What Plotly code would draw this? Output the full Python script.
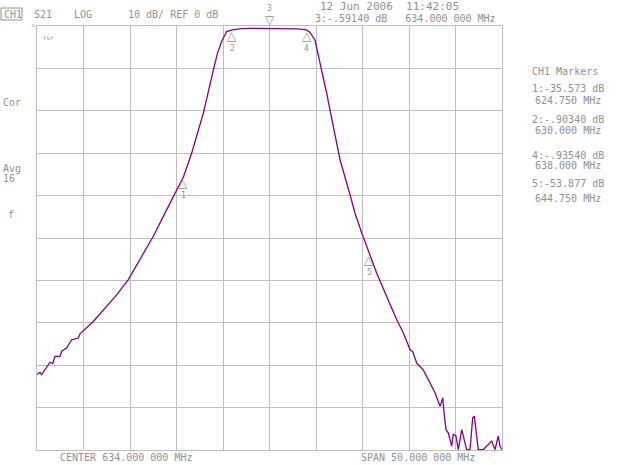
import plotly.graph_objects as go

# ---- data ----
freq_mhz = [609.0, 609.32, 609.5, 609.86, 610.22, 610.4, 610.69, 610.94, 611.47, 611.66,
            612.19, 612.73, 613.44, 613.62, 615.05, 616.49, 617.57, 618.82, 620.08, 621.51,
            622.95, 624.19, 624.75, 625.63, 626.88, 627.96, 628.41, 628.86, 629.4, 630.0,
            631.0, 632.0, 634.0, 636.0, 637.0, 638.0, 638.35, 638.89, 639.14, 639.43,
            640.15, 640.86, 641.59, 642.66, 643.19, 643.92, 644.75, 645.53, 646.6, 647.68,
            648.4, 649.11, 649.4, 649.83, 650.5, 651.08, 651.8, 652.34, 652.63, 652.77,
            652.98, 653.23, 653.59, 653.76, 654.05, 654.3, 654.67, 655.02, 655.2, 655.56,
            655.85, 656.02, 656.28, 656.45, 656.99, 657.71, 657.89, 658.25, 658.6, 658.78,
            658.97]
s21_db = [-82.2, -81.7, -82.2, -81.0, -79.9, -79.3, -79.6, -77.9, -77.9, -76.7,
          -75.9, -74.0, -73.6, -72.6, -69.7, -66.1, -63.4, -59.8, -55.1, -49.6,
          -43.3, -37.9, -35.573, -30.0, -20.6, -10.4, -6.4, -3.6, -1.3, -0.9034,
          -0.6, -0.55, -0.5914, -0.6, -0.7, -0.9354, -1.5, -3.3, -5.7, -8.8,
          -15.9, -23.7, -31.6, -39.8, -44.1, -48.8, -53.877, -58.3, -63.8, -69.3,
          -72.4, -76.3, -76.8, -79.5, -81.0, -83.4, -86.5, -89.7, -87.7, -91.3,
          -95.2, -96.0, -99.1, -96.3, -96.7, -99.9, -95.2, -98.3, -99.9, -99.9,
          -92.4, -92.0, -96.7, -99.9, -99.9, -98.3, -97.9, -99.9, -96.7, -99.0,
          -99.9]

marker_ids = ["1", "2", "4", "5"]
marker_freq = [624.75, 630.0, 638.0, 644.75]
marker_db = [-35.573, -0.9034, -0.9354, -53.877]
marker3_freq = 634.0

marker_lines = [("1:-35.573 dB", "624.750 MHz"),
                ("2:-.90340 dB", "630.000 MHz"),
                ("4:-.93540 dB", "638.000 MHz"),
                ("5:-53.877 dB", "644.750 MHz")]

x_start, x_stop = 609.0, 659.0
y_bottom, y_ref = -100.0, 0.0

# ---- layout helpers ----
W, H = 640, 465
L, R, T, B = 37, 502, 26, 450.5
GRAY = "#8f8f8f"
GRID = "#bdbdbd"
FONT = "DejaVu Sans Mono"


def px(x, y):
    return (x - L) / (R - L), (B - y) / (B - T)


fig = go.Figure()
fig.add_trace(go.Scatter(x=freq_mhz, y=s21_db, mode="lines",
                         line=dict(color="#800080", width=1.3), hoverinfo="skip"))

ann = []


def text(x, y, s, size=10, xanchor="left", color=GRAY):
    xp, yp = px(x, y)
    ann.append(dict(x=xp, y=yp, xref="paper", yref="paper", text=s, showarrow=False,
                    xanchor=xanchor, yanchor="middle",
                    font=dict(family=FONT, size=size, color=color)))


# header
text(2, 14, "CH1", 10)
text(32, 14, "S21", 10)
text(72, 14, "LOG", 10)
text(126, 14, "10 dB/ REF 0 dB", 10)
text(318, 6, "12 Jun 2006  11:42:05", 11)
text(313, 18, "3:-.59140 dB   634.000 000 MHz", 10)
# left annotations
text(1, 103, "Cor", 10)
text(1, 169, "Avg", 10)
text(1, 179, "16", 10)
text(6, 215, "f", 10)
text(41, 38, "rsr", 6)
text(30, 24, "▷", 6)
# right marker list
text(530, 72, "CH1 Markers", 10)
ys = [(89, 101), (120, 131), (156, 166), (184, 199)]
for (a, b), (ya, yb) in zip(marker_lines, ys):
    text(530, ya, a, 10)
    text(533, yb, b, 10)
# footer
text(58, 458, "CENTER 634.000 000 MHz", 10)
text(359, 458, "SPAN 50.000 000 MHz", 10)

# markers on trace
for mid, mf, md in zip(marker_ids, marker_freq, marker_db):
    ann.append(dict(x=mf, y=md, xref="x", yref="y", text="△", showarrow=False,
                    xanchor="center", yanchor="top", yshift=3,
                    font=dict(family="DejaVu Sans", size=12, color=GRAY)))
    ann.append(dict(x=mf, y=md, xref="x", yref="y", text=mid, showarrow=False,
                    xanchor="center", yanchor="top", yshift=-12,
                    font=dict(family=FONT, size=8, color=GRAY)))
# marker 3 (active marker above graticule)
ann.append(dict(x=marker3_freq, y=1, xref="x", yref="paper", text="▽", showarrow=False,
                xanchor="center", yanchor="bottom", yshift=-3,
                font=dict(family="DejaVu Sans", size=12, color=GRAY)))
ann.append(dict(x=marker3_freq, y=1, xref="x", yref="paper", text="3", showarrow=False,
                xanchor="center", yanchor="bottom", yshift=11,
                font=dict(family=FONT, size=8, color=GRAY)))

shapes = [dict(type="rect", xref="paper", yref="paper",
               x0=px(1, 0)[0], x1=px(22, 0)[0], y0=px(0, 20)[1], y1=px(0, 8)[1],
               line=dict(color=GRAY, width=1))]

fig.update_layout(
    width=W, height=H,
    margin=dict(l=L, r=W - R, t=T, b=H - B),
    paper_bgcolor="white", plot_bgcolor="white",
    showlegend=False,
    annotations=ann, shapes=shapes,
    xaxis=dict(range=[x_start, x_stop], dtick=5, tick0=x_start, showticklabels=False,
               ticks="", showgrid=True, gridcolor=GRID, gridwidth=1,
               showline=True, linecolor=GRID, mirror=True, zeroline=False),
    yaxis=dict(range=[y_bottom, y_ref], dtick=10, showticklabels=False, ticks="",
               showgrid=True, gridcolor=GRID, gridwidth=1,
               showline=True, linecolor=GRID, mirror=True, zeroline=False),
)

fig.write_html("out.html", config={"displayModeBar": False},
               post_script="document.body.style.margin='0px';")
